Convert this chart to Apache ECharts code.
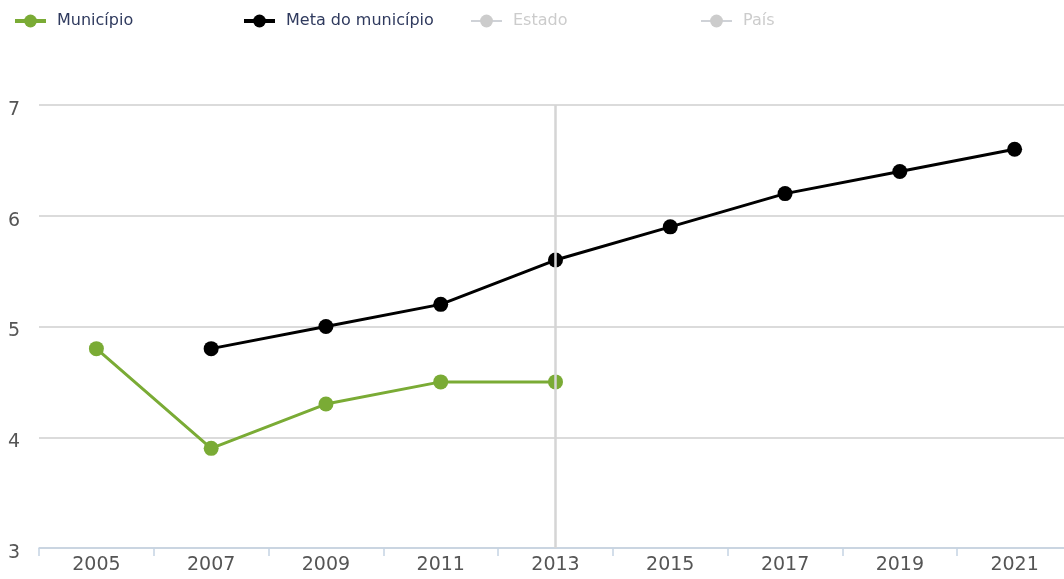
<!DOCTYPE html>
<html>
<head>
<meta charset="utf-8">
<script src="https://cdn.jsdelivr.net/npm/echarts@6/dist/echarts.min.js"></script>
<style>
  html, body { margin: 0; padding: 0; background: #fff; overflow: hidden; }
  /* o gráfico original passa um pouco da borda direita */
  #chart { width: 1072px; height: 579px; }
</style>
</head>
<body>
<div id="chart"></div>
<script>
// dados do gráfico
const anos = ['2005', '2007', '2009', '2011', '2013', '2015', '2017', '2019', '2021']
const municipio = [4.8, 3.9, 4.3, 4.5, 4.5, null, null, null, null]
const metaMunicipio = [null, 4.8, 5.0, 5.2, 5.6, 5.9, 6.2, 6.4, 6.6]
const estado = []
const pais = []
const anoDestaque = '2013'

const fonte = '"DejaVu Sans", sans-serif'

function legenda(nome, left) {
  return {
    data: [nome],
    left: left,
    top: 8,
    itemWidth: 31,
    itemHeight: 16,
    selected: { 'Estado': false, 'País': false },
    inactiveColor: '#ccc',
    inactiveBorderColor: '#ccc',
    lineStyle: { width: 4 },
    textStyle: { color: '#2f3a5e', fontSize: 16, fontFamily: fonte, padding: [0, 0, 0, 6] }
  }
}

const chart = echarts.init(document.getElementById('chart'))
chart.setOption({
  animation: false,
  legend: [
    legenda('Município', 8),
    legenda('Meta do município', 237),
    legenda('Estado', 465),
    legenda('País', 695)
  ],
  grid: { left: 39, right: 0, top: 105, bottom: 31, containLabel: false },
  xAxis: {
    type: 'category',
    data: anos,
    boundaryGap: true,
    axisLine: { lineStyle: { color: '#c5d3e3', width: 1.5 } },
    axisTick: { show: true, length: 8, lineStyle: { color: '#c5d3e3', width: 1.5 } },
    axisLabel: { color: '#555', fontSize: 19, fontFamily: fonte, margin: 8 },
    splitLine: { show: false }
  },
  yAxis: {
    type: 'value',
    min: 3,
    max: 7,
    interval: 1,
    axisLine: { show: false },
    axisTick: { show: false },
    axisLabel: { color: '#555', fontSize: 19, fontFamily: fonte, margin: 19, verticalAlign: 'top', lineHeight: 10 },
    splitLine: { lineStyle: { color: '#cfcfcf', width: 1.5 } }
  },
  series: [
    {
      name: 'Município',
      type: 'line',
      data: municipio,
      color: '#7aab35',
      symbol: 'circle',
      symbolSize: 15,
      lineStyle: { width: 3 },
      markLine: {
        silent: true,
        symbol: 'none',
        label: { show: false },
        lineStyle: { color: '#d5d5d5', type: 'solid', width: 2.5 },
        data: [{ xAxis: anoDestaque }]
      },
      z: 3
    },
    {
      name: 'Meta do município',
      type: 'line',
      data: metaMunicipio,
      color: '#000',
      symbol: 'circle',
      symbolSize: 15,
      lineStyle: { width: 3 },
      z: 3
    },
    { name: 'Estado', type: 'line', data: estado, color: '#999', symbol: 'circle', symbolSize: 15 },
    { name: 'País', type: 'line', data: pais, color: '#999', symbol: 'circle', symbolSize: 15 }
  ]
})
</script>
</body>
</html>
